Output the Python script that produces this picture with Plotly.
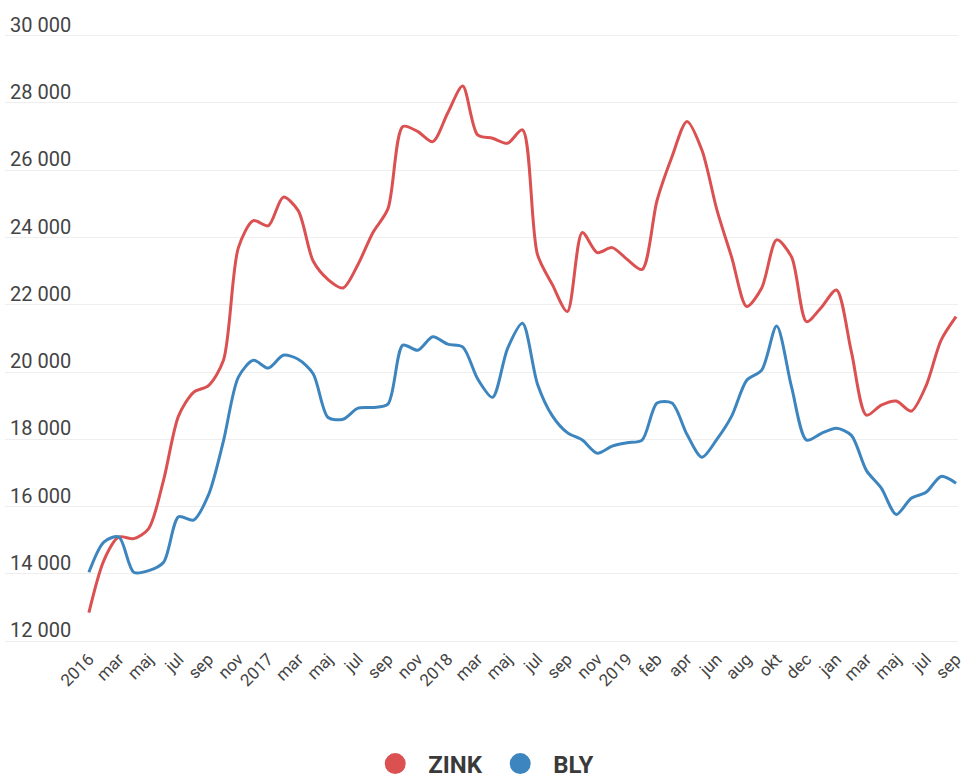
import plotly.graph_objects as go

# Tick labels (every other data point is labelled)
tick_labels = ["2016", "mar", "maj", "jul", "sep", "nov",
               "2017", "mar", "maj", "jul", "sep", "nov",
               "2018", "mar", "maj", "jul", "sep", "nov",
               "2019", "feb", "apr", "jun", "aug", "okt", "dec",
               "jan", "mar", "maj", "jul", "sep"]

# Series values (59 points)
zink = [12850, 14400, 15100, 15050, 15350, 16800, 18700, 19400, 19600, 20350,
        23700, 24500, 24350, 25200, 24800, 23300, 22750, 22500, 23200, 24150,
        24850, 27300, 27150, 26850, 27700, 28500, 27050, 26950, 26800, 27200,
        23500, 22600, 21800, 24150, 23550, 23700, 23350, 23050, 25100, 26400,
        27450, 26600, 24830, 23400, 21950, 22500, 23930, 23420, 21500, 21930,
        22440, 20600, 18720, 19020, 19140, 18840, 19600, 20950, 21650]

bly = [14050, 14950, 15100, 14050, 14100, 14350, 15700, 15600, 16350, 17950,
       19850, 20350, 20120, 20500, 20380, 19950, 18650, 18600, 18930, 18950,
       19050, 20800, 20650, 21050, 20830, 20750, 19800, 19250, 20700, 21450,
       19650, 18700, 18200, 17980, 17590, 17800, 17900, 17980, 19080, 19080,
       18150, 17470, 18000, 18700, 19760, 20060, 21370, 19550, 17980, 18180,
       18330, 18120, 17080, 16550, 15770, 16250, 16430, 16900, 16700]

series_names = ["ZINK", "BLY"]
colors = ["#db5050", "#3d85bf"]

x = list(range(len(zink)))
tick_vals = list(range(0, len(zink), 2))

fig = go.Figure()
for name, vals, col in zip(series_names, [zink, bly], colors):
    fig.add_trace(go.Scatter(
        x=x, y=vals, mode="lines", name=name,
        line=dict(color=col, width=3, shape="spline", smoothing=0.8),
        showlegend=False, hoverinfo="skip"))
    # legend entry shown as a large dot
    fig.add_trace(go.Scatter(
        x=[None], y=[None], mode="markers", name=name,
        marker=dict(color=col, size=16, line=dict(color=col, width=5)),
        showlegend=True))

fig.update_layout(
    width=967, height=778,
    margin=dict(l=5, r=7, t=2, b=130),
    paper_bgcolor="white", plot_bgcolor="white",
    separators=", ",
    font=dict(family="Roboto, sans-serif", color="#444444"),
    legend=dict(orientation="h", x=0.506, xanchor="center",
                yref="container", y=0.018, yanchor="middle",
                itemsizing="trace",
                font=dict(size=24, color="#3a3a3a", weight=700),
                itemwidth=56, entrywidth=54),
)

fig.update_xaxes(
    range=[-5.61, 58.13],
    tickmode="array", tickvals=tick_vals, ticktext=tick_labels,
    tickangle=-45, tickfont=dict(size=17, color="#444444"),
    ticklabelstandoff=-3,
    showgrid=False, zeroline=False, showline=False, ticks="")

fig.update_yaxes(
    range=[11800, 31000], tickvals=list(range(12000, 30001, 2000)),
    tickformat=",d",
    ticklabelposition="inside top",
    ticklabelstandoff=2,
    ticklabelshift=3,
    tickfont=dict(size=20, color="#444444"),
    showgrid=True, gridcolor="#eeeeee", gridwidth=1,
    zeroline=False, showline=False, ticks="")

fig.write_html("out.html",
               config={"displayModeBar": False},
               post_script="document.body.style.margin='0px';")
